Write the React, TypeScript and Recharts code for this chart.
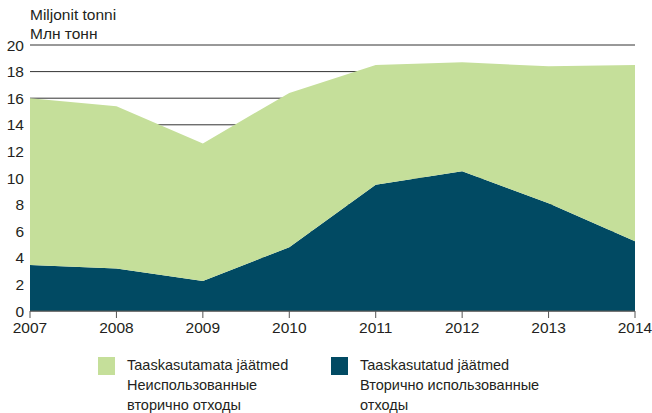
import React from 'react';
import { AreaChart, Area, XAxis, YAxis, CartesianGrid } from 'recharts';

const years = ['2007', '2008', '2009', '2010', '2011', '2012', '2013', '2014'];
const recycled = [3.45, 3.2, 2.25, 4.8, 9.5, 10.5, 8.1, 5.25];
const totals = [16.0, 15.4, 12.6, 16.4, 18.5, 18.7, 18.4, 18.5];
const yTicks = [0, 2, 4, 6, 8, 10, 12, 14, 16, 18, 20];

const data = years.map((year, i) => ({
  year,
  recycled: recycled[i],
  notRecycled: +(totals[i] - recycled[i]).toFixed(2),
}));

const LIGHT = '#c5df9a';
const DARK = '#014a63';
const FONT = '"Liberation Sans", Arial, sans-serif';
const textColor = '#231f20';

const LegendItem: React.FC<{ color: string; lines: string[]; left: number }> = ({ color, lines, left }) => (
  <div style={{ position: 'absolute', left, top: 355, display: 'flex' }}>
    <div style={{ width: 17, height: 18, background: color, marginTop: 2 }} />
    <div style={{ marginLeft: 12, fontSize: 14.5, lineHeight: '20px', color: textColor }}>
      {lines.map((l) => (
        <div key={l}>{l}</div>
      ))}
    </div>
  </div>
);

const App: React.FC = () => {
  return (
    <div style={{ position: 'absolute', left: 0, top: 0, width: 652, height: 413, fontFamily: FONT, background: '#fff' }}>
      <div style={{ position: 'absolute', left: 30, top: 5, fontSize: 15.5, lineHeight: '19px', color: textColor }}>
        <div>Miljonit tonni</div>
        <div>Млн тонн</div>
      </div>
      <AreaChart
        width={652}
        height={345}
        data={data}
        margin={{ top: 45, right: 0, left: 0, bottom: 0 }}
        style={{ position: 'absolute', left: 0, top: 0 }}
      >
        <CartesianGrid yAxisId="left" vertical={false} stroke="#333" strokeWidth={1} />
        <XAxis
          dataKey="year"
          height={34}
          interval={0}
          tickSize={7}
          tickMargin={4}
          stroke="#555"
          tick={{ fill: textColor, fontSize: 15.5, fontFamily: FONT }}
        />
        <YAxis
          yAxisId="left"
          domain={[0, 20]}
          ticks={yTicks}
          width={30}
          axisLine={false}
          tickLine={false}
          tickSize={0}
          tickMargin={6}
          tick={{ fill: textColor, fontSize: 15.5, fontFamily: FONT }}
        />
        <YAxis
          yAxisId="right"
          orientation="right"
          domain={[0, 20]}
          ticks={yTicks}
          width={17}
          axisLine={false}
          tickSize={3}
          stroke="#999"
          tickFormatter={() => ''}
        />
        <Area
          yAxisId="left"
          type="linear"
          dataKey="recycled"
          stackId="a"
          stroke="none"
          fill={DARK}
          fillOpacity={1}
          isAnimationActive={false}
        />
        <Area
          yAxisId="left"
          type="linear"
          dataKey="notRecycled"
          stackId="a"
          stroke="none"
          fill={LIGHT}
          fillOpacity={1}
          isAnimationActive={false}
        />
      </AreaChart>
      <LegendItem color={LIGHT} left={98} lines={['Taaskasutamata jäätmed', 'Неиспользованные', 'вторично отходы']} />
      <LegendItem color={DARK} left={331} lines={['Taaskasutatud jäätmed', 'Вторично использованные', 'отходы']} />
    </div>
  );
};

export default App;
